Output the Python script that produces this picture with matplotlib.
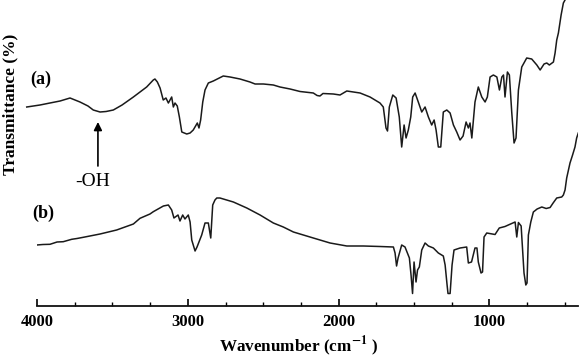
import matplotlib
matplotlib.use("Agg")
import matplotlib.pyplot as plt

# spectrum (a): wavenumber [cm-1] and transmittance (arbitrary units)
wn_a = [4068, 3980, 3914, 3847, 3781, 3715, 3662, 3627, 3582, 3542, 3494, 3436, 3361, 3317,
        3273, 3229, 3218, 3202, 3184, 3163, 3145, 3129, 3107, 3096, 3085, 3070, 3056, 3040,
        3007, 2985, 2964, 2937, 2926, 2915, 2901, 2886, 2864, 2831, 2765, 2720, 2654, 2588,
        2554, 2499, 2433, 2389, 2322, 2256, 2168, 2143, 2124, 2104, 2035, 1991, 1946, 1858,
        1792, 1759, 1726, 1704, 1686, 1676, 1664, 1641, 1619, 1598, 1582, 1566, 1553, 1538,
        1522, 1509, 1493, 1472, 1449, 1427, 1405, 1383, 1367, 1354, 1339, 1323, 1306, 1283,
        1261, 1239, 1217, 1195, 1175, 1155, 1140, 1129, 1117, 1096, 1074, 1051, 1029, 1014,
        996, 974, 951, 934, 918, 907, 897, 881, 868, 852, 837, 824, 808, 786, 753, 720,
        686, 664, 638, 620, 603, 576, 565, 554, 543, 525, 510, 499, 486]
t_a = [199, 201, 203, 205, 208, 204, 200, 196, 194, 194.5, 196, 201, 209, 214,
       219, 226, 227, 224, 218, 206, 208, 203, 209, 199, 203, 200, 189, 174,
       172, 173, 176, 183, 178, 186, 204, 216, 223, 225, 230, 229, 227, 224,
       222, 222, 221, 219, 217, 214.5, 213, 210.5, 210, 212.5, 212, 211, 215, 213,
       209, 206, 203, 199, 178, 175, 199, 211, 208, 189, 159, 181, 168, 176,
       189, 209, 213, 204, 194, 199, 189, 181, 186, 176, 159, 159, 194, 196,
       193, 181, 174, 166, 170, 184, 178, 183, 168, 204, 219, 209, 204, 209,
       229, 231, 229, 216, 229, 231, 209, 234, 231, 193, 163, 168, 216, 239, 248, 247,
       241, 236, 242, 243, 241, 244, 253, 266, 273, 291, 303, 306, 316]

# spectrum (b)
wn_b = [4002, 3960, 3914, 3867, 3826, 3770, 3735, 3693, 3582, 3472, 3361, 3317, 3251, 3229,
        3162, 3129, 3107, 3092, 3065, 3052, 3034, 3019, 2997, 2985, 2974, 2952, 2939, 2908,
        2886, 2864, 2848, 2835, 2820, 2808, 2787, 2698, 2609, 2521, 2433, 2367, 2300, 2168,
        2057, 1946, 1836, 1726, 1637, 1626, 1616, 1606, 1582, 1560, 1531, 1520, 1510, 1500,
        1487, 1477, 1465, 1449, 1427, 1405, 1372, 1339, 1306, 1294, 1281, 1275, 1261, 1248,
        1235, 1195, 1151, 1140, 1119, 1096, 1083, 1074, 1056, 1046, 1036, 1018, 963, 935,
        897, 875, 830, 819, 808, 790, 771, 759, 751, 742, 726, 709, 684, 653, 624, 598,
        578, 554, 521, 510, 499, 488, 466, 449, 433, 422, 411]
t_b = [61, 61.5, 61.7, 64, 64.3, 66.7, 67.5, 68.7, 72, 76, 82, 87.7, 92, 94.3,
       100, 101, 96, 88, 91, 85, 91, 87, 91, 84, 66, 55, 59, 71,
       83, 83, 68, 101, 106, 108, 108, 104, 98, 91, 83, 79, 74, 68,
       63, 60, 60, 59.5, 59, 53, 40, 48, 61, 59, 48, 31, 12.5, 44,
       24, 36, 39, 56, 63, 60, 58, 53, 50, 41, 21, 12.5, 12.5, 41,
       56, 58, 59, 43, 44, 58, 58, 44, 33, 34, 69, 73, 71.5, 78,
       79.5, 81, 84, 69, 83.5, 80, 33, 21, 23, 71, 84, 94, 97, 99, 97.5, 98.5,
       103, 108, 109, 111, 116, 128, 143, 151, 159, 168, 173]

x_ticks = [4000, 3000, 2000, 1000]
x_minor = [3750, 3500, 3250, 2750, 2500, 2250, 1750, 1500, 1250, 750, 500]

plt.rcParams["font.family"] = ["Liberation Serif", "DejaVu Serif"]
plt.rcParams["mathtext.fontset"] = "stix"

fig = plt.figure(figsize=(5.82, 3.62), dpi=100)
ax = fig.add_axes([37 / 582, 56 / 362, 540.7 / 582, 306 / 362])

line_c = "#1a1a1a"
# (a) starts a little left of 4000, so don't clip it to the axes box
ax.plot(wn_a, t_a, color=line_c, lw=1.1, clip_on=False)
ax.plot(wn_b, t_b, color=line_c, lw=1.1)

ax.set_xlim(4000, 415)
ax.set_ylim(0, 306)

for s in ("top", "left", "right"):
    ax.spines[s].set_visible(False)
ax.spines["bottom"].set_linewidth(1.3)
ax.spines["bottom"].set_color("#111111")
ax.set_yticks([])
ax.set_xticks(x_ticks)
ax.set_xticks(x_minor, minor=True)
ax.tick_params(axis="x", which="major", direction="in", length=5, width=1.2, pad=6,
               labelsize=12)
ax.tick_params(axis="x", which="minor", direction="in", length=3, width=1.0)
for lab in ax.get_xticklabels():
    lab.set_fontweight("bold")

ax.text(4046, 227, "(a)", fontsize=13, fontweight="bold", va="center", ha="left",
        clip_on=False)
ax.text(4030, 93, "(b)", fontsize=13, fontweight="bold", va="center", ha="left")

ax.annotate("", xy=(3596, 184), xytext=(3596, 140),
            arrowprops=dict(arrowstyle="-|>", color="black", lw=1.2,
                            mutation_scale=12, shrinkA=0, shrinkB=0))
ax.text(3629, 124, "-OH", fontsize=14, ha="center", va="center")

fig.text(10 / 582, 1 - 104 / 362, "Transmittance (%)", rotation=90, fontsize=12.5,
         fontweight="bold", ha="center", va="center")
fig.text(298 / 582, 1 - 346 / 362, r"Wavenumber (cm$^{\mathbf{-1}}$ )", fontsize=12.3,
         fontweight="bold", ha="center", va="center")

fig.savefig("out.png", dpi=100)
